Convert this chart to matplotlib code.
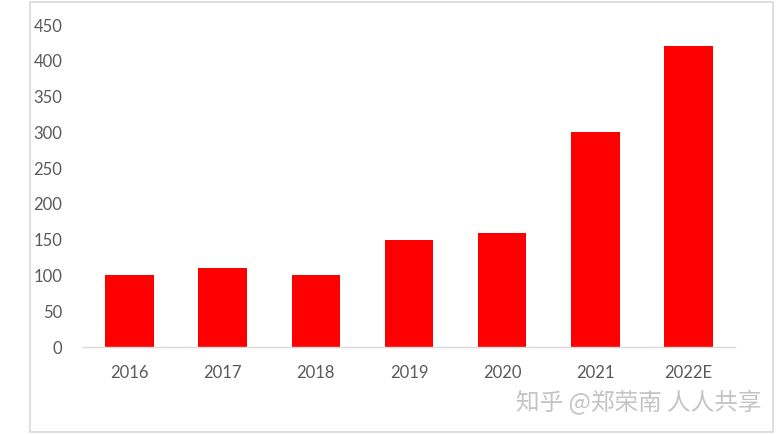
import matplotlib
matplotlib.use('Agg')
import matplotlib.pyplot as plt
from matplotlib.patches import Rectangle

years = ['2016', '2017', '2018', '2019', '2020', '2021', '2022E']
values = [100, 110, 100, 150, 160, 300, 420]
yticks = [0, 50, 100, 150, 200, 250, 300, 350, 400, 450]

W, H = 782, 434
fig = plt.figure(figsize=(W / 100, H / 100), dpi=100)
fig.patch.set_facecolor('white')

# outer chart border
fig.patches.append(Rectangle((30 / W, 2 / H), 743 / W, 430 / H, transform=fig.transFigure,
                             fill=False, edgecolor='#d9d9d9', linewidth=1.2))

ax = fig.add_axes([83 / W, 87 / H, 652 / W, 322 / H])
ax.bar(range(len(years)), values, width=0.52, color='#ff0000')
ax.set_xlim(-0.5, len(years) - 0.5)
ax.set_ylim(0, 450)
ax.set_yticks(yticks)
ax.set_xticks(range(len(years)))
ax.set_xticklabels(years)

for s in ['top', 'right', 'left']:
    ax.spines[s].set_visible(False)
ax.spines['bottom'].set_color('#d9d9d9')
ax.spines['bottom'].set_linewidth(1)
ax.tick_params(axis='both', length=0, labelsize=12, labelcolor='#595959')
ax.tick_params(axis='y', pad=15)
ax.tick_params(axis='x', pad=13)
for lab in ax.get_xticklabels() + ax.get_yticklabels():
    lab.set_fontfamily('Lato')

# watermark
fig.text(762 / W, 1 - 402 / H, '知乎 @郑荣南 人人共享', ha='right', va='center',
         fontsize=17, color='#c4c4c4', family=['Noto Sans CJK SC', 'DejaVu Sans'])

fig.savefig('out.png', dpi=100)
